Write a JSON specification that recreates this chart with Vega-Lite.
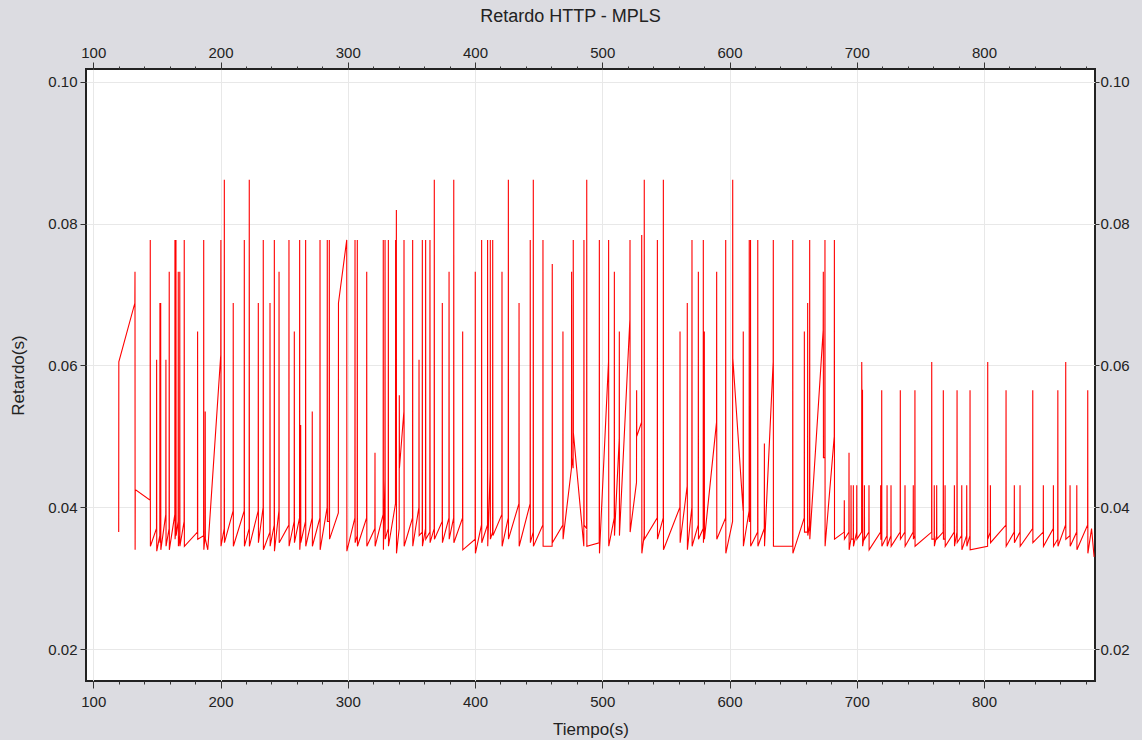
{
  "$schema": "https://vega.github.io/schema/vega-lite/v6.json",
  "width": 1009,
  "height": 612,
  "autosize": {"type": "none"},
  "padding": {"left": 86, "top": 69, "right": 47, "bottom": 59},
  "background": "#dcdce1",
  "title": {"text": "Retardo HTTP - MPLS", "font": "Liberation Sans", "fontSize": 18, "fontWeight": "normal", "color": "#222222", "offset": 19, "dx": -20},
  "config": {
    "view": {"stroke": "#222222", "strokeWidth": 2, "fill": "white"},
    "axis": {"labelFont": "Liberation Sans", "titleFont": "Liberation Sans", "labelFontSize": 15, "titleFontSize": 17, "titleFontWeight": "normal", "labelColor": "#222222", "titleColor": "#222222", "tickColor": "#333333", "domain": false, "gridColor": "#e8e8e8", "gridWidth": 1}
  },
  "data": {"values": [
    {"t":120.0,"d":0.0365},{"t":120.1,"d":0.0605},{"t":132.7,"d":0.0688},{"t":132.8,"d":0.0732},{"t":132.9,"d":0.0340},{"t":133.0,"d":0.0425},{"t":144.7,"d":0.0410},{"t":144.8,"d":0.0777},{"t":144.9,"d":0.0345},
    {"t":149.7,"d":0.037},{"t":149.8,"d":0.0608},{"t":149.9,"d":0.0338},
    {"t":152.3,"d":0.036},{"t":152.4,"d":0.0688},{"t":152.5,"d":0.035},
    {"t":152.9,"d":0.037},{"t":153.0,"d":0.0688},{"t":153.1,"d":0.034},
    {"t":157.0,"d":0.039},{"t":157.1,"d":0.0608},{"t":157.2,"d":0.0345},
    {"t":159.6,"d":0.037},{"t":159.7,"d":0.0732},{"t":159.8,"d":0.034},
    {"t":164.1,"d":0.039},{"t":164.2,"d":0.0777},{"t":164.3,"d":0.0355},
    {"t":164.9,"d":0.037},{"t":165.0,"d":0.0777},{"t":165.1,"d":0.036},
    {"t":166.7,"d":0.038},{"t":166.8,"d":0.0732},{"t":166.9,"d":0.0345},
    {"t":167.9,"d":0.036},{"t":168.0,"d":0.0732},{"t":168.1,"d":0.0345},
    {"t":171.4,"d":0.038},{"t":171.5,"d":0.0777},{"t":171.6,"d":0.0345},
    {"t":181.9,"d":0.0365},{"t":182.0,"d":0.0648},{"t":182.1,"d":0.0355},
    {"t":186.7,"d":0.036},{"t":186.8,"d":0.0777},{"t":186.9,"d":0.034},
    {"t":187.9,"d":0.036},{"t":188.0,"d":0.0535},{"t":188.1,"d":0.0355},
    {"t":190.0,"d":0.034},{"t":200.2,"d":0.0615},{"t":200.3,"d":0.0777},{"t":200.4,"d":0.0345},
    {"t":202.9,"d":0.037},{"t":203.0,"d":0.0862},{"t":203.1,"d":0.035},
    {"t":209.9,"d":0.0395},{"t":210.0,"d":0.0688},{"t":210.1,"d":0.0345},
    {"t":218.6,"d":0.0395},{"t":218.7,"d":0.0777},{"t":218.8,"d":0.0345},
    {"t":222.5,"d":0.037},{"t":222.6,"d":0.0862},{"t":222.7,"d":0.0345},
    {"t":229.6,"d":0.0395},{"t":229.7,"d":0.0688},{"t":229.8,"d":0.035},
    {"t":233.5,"d":0.040},{"t":233.6,"d":0.0777},{"t":233.7,"d":0.034},
    {"t":238.8,"d":0.0365},{"t":238.9,"d":0.0688},{"t":239.0,"d":0.0345},
    {"t":242.2,"d":0.0375},{"t":242.3,"d":0.0777},{"t":242.4,"d":0.0338},
    {"t":245.9,"d":0.0395},{"t":246.0,"d":0.0732},{"t":246.1,"d":0.035},
    {"t":253.7,"d":0.0375},{"t":253.8,"d":0.0777},{"t":253.9,"d":0.0345},
    {"t":257.9,"d":0.038},{"t":258.0,"d":0.0648},{"t":258.1,"d":0.035},
    {"t":262.1,"d":0.0385},{"t":262.2,"d":0.0777},{"t":262.3,"d":0.034},
    {"t":262.9,"d":0.0355},{"t":263.0,"d":0.0516},{"t":263.1,"d":0.035},
    {"t":266.8,"d":0.038},{"t":266.9,"d":0.0777},{"t":267.0,"d":0.0345},
    {"t":272.0,"d":0.0385},{"t":272.1,"d":0.0535},{"t":272.2,"d":0.0345},
    {"t":278.1,"d":0.0385},{"t":278.2,"d":0.0777},{"t":278.3,"d":0.034},
    {"t":283.8,"d":0.040},{"t":283.9,"d":0.0777},{"t":284.0,"d":0.038},
    {"t":285.4,"d":0.038},{"t":285.5,"d":0.0777},{"t":285.6,"d":0.0515},{"t":285.7,"d":0.0355},
    {"t":292.6,"d":0.0392},{"t":292.7,"d":0.0688},{"t":299.2,"d":0.0777},{"t":299.3,"d":0.0338},
    {"t":305.6,"d":0.0385},{"t":305.7,"d":0.0777},{"t":305.8,"d":0.035},
    {"t":307.4,"d":0.036},{"t":307.5,"d":0.0777},{"t":307.6,"d":0.0345},
    {"t":314.8,"d":0.0385},{"t":314.9,"d":0.0732},{"t":315.0,"d":0.0345},
    {"t":321.3,"d":0.037},{"t":321.4,"d":0.0477},{"t":321.5,"d":0.0345},
    {"t":327.8,"d":0.039},{"t":327.9,"d":0.0777},{"t":328.0,"d":0.034},
    {"t":329.2,"d":0.044},{"t":329.3,"d":0.0777},{"t":329.4,"d":0.0355},
    {"t":331.8,"d":0.037},{"t":331.9,"d":0.0777},{"t":332.0,"d":0.0345},
    {"t":337.5,"d":0.0405},{"t":337.6,"d":0.0777},{"t":337.7,"d":0.060},
    {"t":338.1,"d":0.058},{"t":338.2,"d":0.0819},{"t":338.3,"d":0.0335},
    {"t":340.4,"d":0.037},{"t":340.5,"d":0.0558},{"t":340.6,"d":0.0455},
    {"t":344.1,"d":0.0535},{"t":344.2,"d":0.0777},{"t":344.3,"d":0.0345},
    {"t":350.9,"d":0.0385},{"t":351.0,"d":0.0777},{"t":351.1,"d":0.0345},
    {"t":355.9,"d":0.040},{"t":356.0,"d":0.0608},{"t":356.1,"d":0.036},
    {"t":358.5,"d":0.0365},{"t":358.6,"d":0.0777},{"t":358.7,"d":0.0345},
    {"t":361.1,"d":0.037},{"t":361.2,"d":0.0777},{"t":361.3,"d":0.0355},
    {"t":364.5,"d":0.0365},{"t":364.6,"d":0.0777},{"t":364.7,"d":0.035},
    {"t":367.9,"d":0.037},{"t":368.0,"d":0.0862},{"t":368.1,"d":0.0355},
    {"t":374.2,"d":0.038},{"t":374.3,"d":0.0688},{"t":374.4,"d":0.035},
    {"t":379.5,"d":0.0385},{"t":379.6,"d":0.0732},{"t":379.7,"d":0.0355},
    {"t":383.2,"d":0.0385},{"t":383.3,"d":0.0862},{"t":383.4,"d":0.035},
    {"t":390.2,"d":0.0385},{"t":390.3,"d":0.0648},{"t":390.4,"d":0.034},
    {"t":400.1,"d":0.0355},{"t":400.2,"d":0.0732},{"t":400.3,"d":0.0335},
    {"t":405.1,"d":0.0375},{"t":405.2,"d":0.0777},{"t":405.3,"d":0.035},
    {"t":409.8,"d":0.0375},{"t":409.9,"d":0.0777},{"t":410.0,"d":0.0345},
    {"t":411.9,"d":0.045},{"t":412.0,"d":0.0777},{"t":412.1,"d":0.0355},
    {"t":413.8,"d":0.0365},{"t":413.9,"d":0.0777},{"t":414.0,"d":0.0455},{"t":414.1,"d":0.036},
    {"t":421.1,"d":0.039},{"t":421.2,"d":0.0732},{"t":421.3,"d":0.0345},
    {"t":426.1,"d":0.0385},{"t":426.2,"d":0.0862},{"t":426.3,"d":0.0355},
    {"t":434.5,"d":0.0405},{"t":434.6,"d":0.0688},{"t":434.7,"d":0.0345},
    {"t":443.3,"d":0.0405},{"t":443.4,"d":0.0777},{"t":443.5,"d":0.035},
    {"t":445.7,"d":0.0365},{"t":445.8,"d":0.0862},{"t":445.9,"d":0.0345},
    {"t":453.3,"d":0.0375},{"t":453.4,"d":0.0777},{"t":453.5,"d":0.0345},
    {"t":460.6,"d":0.0345},{"t":460.7,"d":0.0743},{"t":460.8,"d":0.035},
    {"t":469.0,"d":0.0375},{"t":469.1,"d":0.0648},{"t":469.2,"d":0.0355},
    {"t":475.8,"d":0.0455},{"t":475.9,"d":0.0732},{"t":476.0,"d":0.047},
    {"t":477.1,"d":0.0455},{"t":477.2,"d":0.0777},{"t":477.3,"d":0.0505},
    {"t":485.5,"d":0.0345},{"t":485.6,"d":0.0777},{"t":485.7,"d":0.0375},
    {"t":487.7,"d":0.037},{"t":487.8,"d":0.0862},{"t":487.9,"d":0.0345},
    {"t":497.6,"d":0.035},{"t":497.7,"d":0.0777},{"t":497.8,"d":0.0335},
    {"t":504.9,"d":0.0605},{"t":505.0,"d":0.0777},{"t":505.1,"d":0.0345},
    {"t":509.4,"d":0.0385},{"t":509.5,"d":0.0732},{"t":509.6,"d":0.036},
    {"t":513.3,"d":0.0495},{"t":513.4,"d":0.0648},{"t":513.5,"d":0.036},
    {"t":521.7,"d":0.0665},{"t":521.8,"d":0.0777},{"t":521.9,"d":0.0365},
    {"t":526.9,"d":0.0435},{"t":527.0,"d":0.0565},{"t":527.1,"d":0.050},
    {"t":530.9,"d":0.052},{"t":531.0,"d":0.0784},{"t":531.1,"d":0.0335},
    {"t":532.9,"d":0.036},{"t":533.0,"d":0.0862},{"t":533.1,"d":0.0355},
    {"t":543.2,"d":0.0385},{"t":543.3,"d":0.0777},{"t":543.4,"d":0.0355},
    {"t":547.9,"d":0.0385},{"t":548.0,"d":0.0862},{"t":548.1,"d":0.034},
    {"t":561.0,"d":0.040},{"t":561.1,"d":0.0648},{"t":561.2,"d":0.035},
    {"t":566.7,"d":0.043},{"t":566.8,"d":0.0688},{"t":566.9,"d":0.034},
    {"t":570.4,"d":0.040},{"t":570.5,"d":0.0777},{"t":570.6,"d":0.0345},
    {"t":575.4,"d":0.0375},{"t":575.5,"d":0.0732},{"t":575.6,"d":0.0355},
    {"t":579.3,"d":0.037},{"t":579.4,"d":0.0777},{"t":579.5,"d":0.035},
    {"t":580.1,"d":0.038},{"t":580.2,"d":0.0648},{"t":580.3,"d":0.0355},
    {"t":589.8,"d":0.052},{"t":589.9,"d":0.0732},{"t":590.0,"d":0.0355},
    {"t":596.9,"d":0.0385},{"t":597.0,"d":0.0777},{"t":597.1,"d":0.0335},
    {"t":602.4,"d":0.038},{"t":602.5,"d":0.0862},{"t":602.6,"d":0.061},
    {"t":610.7,"d":0.0395},{"t":610.8,"d":0.0648},{"t":610.9,"d":0.0345},
    {"t":615.4,"d":0.0395},{"t":615.5,"d":0.0777},{"t":615.6,"d":0.038},
    {"t":616.4,"d":0.038},{"t":616.5,"d":0.0777},{"t":616.6,"d":0.0345},
    {"t":622.1,"d":0.0365},{"t":622.2,"d":0.0777},{"t":622.3,"d":0.0345},
    {"t":627.3,"d":0.037},{"t":627.4,"d":0.049},{"t":627.5,"d":0.0345},
    {"t":634.3,"d":0.0605},{"t":634.4,"d":0.0777},{"t":634.5,"d":0.0345},
    {"t":649.6,"d":0.0345},{"t":649.7,"d":0.0777},{"t":649.8,"d":0.0335},
    {"t":658.7,"d":0.0385},{"t":658.8,"d":0.0648},{"t":658.9,"d":0.0365},
    {"t":661.3,"d":0.0365},{"t":661.4,"d":0.0688},{"t":661.5,"d":0.036},
    {"t":662.9,"d":0.0375},{"t":663.0,"d":0.0777},{"t":663.1,"d":0.0355},
    {"t":673.6,"d":0.065},{"t":673.7,"d":0.0732},{"t":673.8,"d":0.047},
    {"t":674.9,"d":0.047},{"t":675.0,"d":0.0777},{"t":675.1,"d":0.0345},
    {"t":682.3,"d":0.050},{"t":682.4,"d":0.0777},{"t":682.5,"d":0.0355},
    {"t":690.1,"d":0.0365},{"t":690.2,"d":0.041},{"t":690.3,"d":0.0355},
    {"t":693.8,"d":0.0365},{"t":693.9,"d":0.0477},{"t":694.0,"d":0.034},
    {"t":695.4,"d":0.0355},{"t":695.5,"d":0.0431},{"t":695.6,"d":0.0355},
    {"t":697.2,"d":0.0355},{"t":697.3,"d":0.0431},{"t":697.4,"d":0.0345},
    {"t":699.9,"d":0.0365},{"t":700.0,"d":0.0431},{"t":700.1,"d":0.0355},
    {"t":703.8,"d":0.0365},{"t":703.9,"d":0.0605},{"t":704.0,"d":0.0565},{"t":704.5,"d":0.0565},{"t":704.6,"d":0.0345},
    {"t":705.9,"d":0.036},{"t":706.0,"d":0.0431},{"t":706.1,"d":0.0355},
    {"t":709.5,"d":0.0365},{"t":709.6,"d":0.0431},{"t":709.7,"d":0.034},
    {"t":718.7,"d":0.0365},{"t":718.8,"d":0.0431},{"t":718.9,"d":0.0355},
    {"t":719.5,"d":0.0355},{"t":719.6,"d":0.0565},{"t":719.7,"d":0.0345},
    {"t":723.7,"d":0.036},{"t":723.8,"d":0.0431},{"t":723.9,"d":0.0345},
    {"t":726.8,"d":0.036},{"t":726.9,"d":0.0431},{"t":727.0,"d":0.0345},
    {"t":734.1,"d":0.0365},{"t":734.2,"d":0.0565},{"t":734.3,"d":0.0355},
    {"t":737.8,"d":0.0365},{"t":737.9,"d":0.0431},{"t":738.0,"d":0.0345},
    {"t":744.3,"d":0.0365},{"t":744.4,"d":0.0431},{"t":744.5,"d":0.0355},
    {"t":745.6,"d":0.036},{"t":745.7,"d":0.0565},{"t":745.8,"d":0.0345},
    {"t":758.8,"d":0.0365},{"t":758.9,"d":0.0605},{"t":759.0,"d":0.0355},
    {"t":760.8,"d":0.0355},{"t":760.9,"d":0.0431},{"t":761.0,"d":0.0345},
    {"t":762.7,"d":0.036},{"t":762.8,"d":0.0431},{"t":762.9,"d":0.0355},
    {"t":767.9,"d":0.0365},{"t":768.0,"d":0.0565},{"t":768.1,"d":0.0355},
    {"t":769.3,"d":0.0355},{"t":769.4,"d":0.0431},{"t":769.5,"d":0.0345},
    {"t":776.6,"d":0.0365},{"t":776.7,"d":0.0431},{"t":776.8,"d":0.0345},
    {"t":778.7,"d":0.0365},{"t":778.8,"d":0.0565},{"t":778.9,"d":0.035},
    {"t":782.4,"d":0.036},{"t":782.5,"d":0.0431},{"t":782.6,"d":0.034},
    {"t":786.3,"d":0.036},{"t":786.4,"d":0.0431},{"t":786.5,"d":0.0345},
    {"t":788.9,"d":0.036},{"t":789.0,"d":0.0565},{"t":789.1,"d":0.034},
    {"t":802.8,"d":0.0345},{"t":802.9,"d":0.0605},{"t":803.0,"d":0.0355},
    {"t":804.9,"d":0.0365},{"t":805.0,"d":0.0431},{"t":805.1,"d":0.035},
    {"t":817.2,"d":0.0375},{"t":817.3,"d":0.0565},{"t":817.4,"d":0.0345},
    {"t":823.7,"d":0.0365},{"t":823.8,"d":0.0431},{"t":823.9,"d":0.035},
    {"t":828.2,"d":0.0365},{"t":828.3,"d":0.0431},{"t":828.4,"d":0.0345},
    {"t":838.2,"d":0.037},{"t":838.3,"d":0.0565},{"t":838.4,"d":0.035},
    {"t":846.5,"d":0.0365},{"t":846.6,"d":0.0431},{"t":846.7,"d":0.0345},
    {"t":854.4,"d":0.037},{"t":854.5,"d":0.0431},{"t":854.6,"d":0.0345},
    {"t":857.9,"d":0.0355},{"t":858.0,"d":0.0565},{"t":858.1,"d":0.0345},
    {"t":864.1,"d":0.0375},{"t":864.2,"d":0.0605},{"t":864.3,"d":0.0355},
    {"t":867.5,"d":0.036},{"t":867.6,"d":0.0431},{"t":867.7,"d":0.0345},
    {"t":872.8,"d":0.0365},{"t":872.9,"d":0.0431},{"t":873.0,"d":0.034},
    {"t":881.4,"d":0.0375},{"t":881.5,"d":0.0565},{"t":881.6,"d":0.0335},
    {"t":884.5,"d":0.037},{"t":886.5,"d":0.033}
  ]},
  "resolve": {"axis": {"x": "independent", "y": "independent"}},
  "layer": [
    {
      "mark": {"type": "line", "color": "#ff0000", "strokeWidth": 1.1, "clip": true, "interpolate": "linear"},
      "encoding": {
        "x": {"field": "t", "type": "quantitative", "sort": null,
          "scale": {"domain": [94.3, 887.2], "nice": false, "zero": false},
          "axis": {"orient": "bottom", "values": [100,200,300,400,500,600,700,800], "grid": true, "tickSize": 7, "labelPadding": 6, "title": "Tiempo(s)", "titlePadding": 12}},
        "y": {"field": "d", "type": "quantitative",
          "scale": {"domain": [0.0155, 0.1018], "nice": false, "zero": false},
          "axis": {"orient": "left", "values": [0.02,0.04,0.06,0.08,0.10], "format": ".2f", "grid": true, "tickSize": 6, "labelPadding": 3, "title": "Retardo(s)", "titlePadding": 20}}
      }
    },
    {
      "mark": {"type": "line", "opacity": 0, "clip": true},
      "encoding": {
        "x": {"field": "t", "type": "quantitative", "sort": null,
          "scale": {"domain": [94.3, 887.2], "nice": false, "zero": false},
          "axis": {"orient": "top", "values": [100,200,300,400,500,600,700,800], "grid": false, "tickSize": 7, "labelPadding": 2, "title": null}},
        "y": {"field": "d", "type": "quantitative",
          "scale": {"domain": [0.0155, 0.1018], "nice": false, "zero": false},
          "axis": {"orient": "right", "values": [0.02,0.04,0.06,0.08,0.10], "format": ".2f", "grid": false, "tickSize": 4, "labelPadding": 1, "title": null}}
      }
    },
    {
      "mark": {"type": "line", "opacity": 0, "clip": true},
      "encoding": {
        "x": {"field": "t", "type": "quantitative", "sort": null,
          "scale": {"domain": [94.3, 887.2], "nice": false, "zero": false},
          "axis": {"orient": "bottom", "values": [100,120,140,160,180,200,220,240,260,280,300,320,340,360,380,400,420,440,460,480,500,520,540,560,580,600,620,640,660,680,700,720,740,760,780,800,820,840,860,880], "grid": false, "labels": false, "tickSize": 3, "title": null}},
        "y": {"field": "d", "type": "quantitative", "scale": {"domain": [0.0155, 0.1018], "nice": false, "zero": false}, "axis": null}
      }
    },
    {
      "mark": {"type": "line", "opacity": 0, "clip": true},
      "encoding": {
        "x": {"field": "t", "type": "quantitative", "sort": null,
          "scale": {"domain": [94.3, 887.2], "nice": false, "zero": false},
          "axis": {"orient": "top", "values": [100,120,140,160,180,200,220,240,260,280,300,320,340,360,380,400,420,440,460,480,500,520,540,560,580,600,620,640,660,680,700,720,740,760,780,800,820,840,860,880], "grid": false, "labels": false, "tickSize": 3, "title": null}},
        "y": {"field": "d", "type": "quantitative", "scale": {"domain": [0.0155, 0.1018], "nice": false, "zero": false}, "axis": null}
      }
    }
  ]
}
